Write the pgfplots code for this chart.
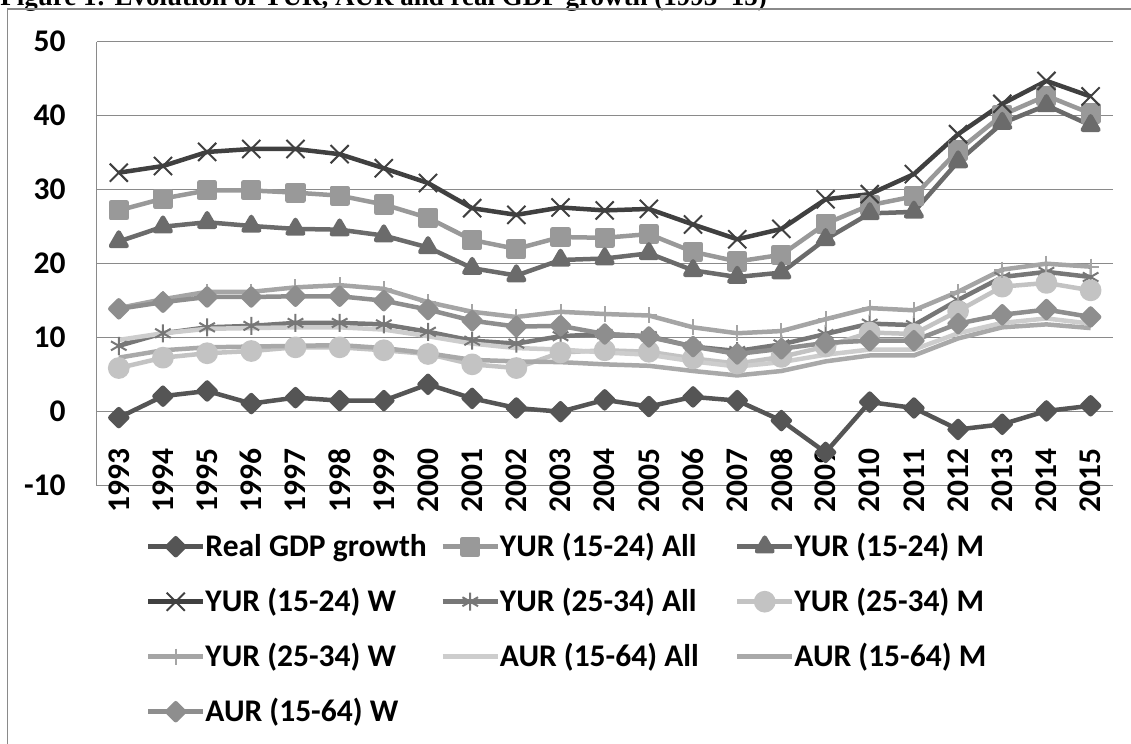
\documentclass[border=0pt]{standalone}
\usepackage{pgfplots}
\pgfplotsset{compat=1.18}
\usepackage{pgfplotstable}
\usepackage{fontspec}
\setmainfont{Carlito}[BoldFont={Carlito Bold}]
\newfontfamily\titlefont{Liberation Serif}[BoldFont={Liberation Serif Bold}]
\definecolor{cGDP}{HTML}{555555}
\definecolor{cYA}{HTML}{999999}
\definecolor{cYM}{HTML}{6B6B6B}
\definecolor{cYW}{HTML}{404040}
\definecolor{cZA}{HTML}{777777}
\definecolor{cZM}{HTML}{C3C3C3}
\definecolor{cZW}{HTML}{A5A5A5}
\definecolor{cAA}{HTML}{CDCDCD}
\definecolor{cAM}{HTML}{A9A9A9}
\definecolor{cAW}{HTML}{8E8E8E}
\definecolor{gridC}{HTML}{8A8A8A}
\newcommand\legtext[1]{\makebox[115.5pt][l]{#1}}
\pgfplotstableread{
x gdp ya ym yw za zm zw aa am aw
0  -0.8 27.2 23.0 32.3  8.9  5.9 14.0  9.7 7.3 13.9
1   2.1 28.8 25.0 33.2 10.6  7.3 15.2 10.6 8.3 14.8
2   2.8 29.9 25.6 35.1 11.4  7.9 16.2 11.2 8.7 15.5
3   1.1 29.9 25.1 35.5 11.6  8.2 16.2 11.3 8.8 15.5
4   1.9 29.6 24.7 35.5 12.0  8.7 16.8 11.4 8.9 15.6
5   1.5 29.2 24.6 34.8 12.0  8.7 17.1 11.4 9.0 15.6
6   1.5 28.0 23.8 32.9 11.8  8.3 16.6 11.1 8.6 15.0
7   3.7 26.2 22.2 30.9 10.8  7.8 14.8 10.2 7.9 13.8
8   1.8 23.2 19.4 27.5  9.6  6.4 13.5  9.2 7.0 12.3
9   0.5 22.0 18.4 26.6  9.2  5.9 12.8  8.6 6.8 11.5
10  0.0 23.6 20.5 27.6 10.2  8.0 13.5  8.4 6.7 11.6
11  1.6 23.5 20.7 27.2 10.5  8.3 13.2  8.0 6.4 10.5
12  0.7 24.0 21.4 27.4 10.2  8.1 13.0  7.7 6.2 10.1
13  2.0 21.6 19.1 25.3  8.8  7.2 11.4  6.8 5.5  8.8
14  1.5 20.3 18.2 23.3  8.2  6.5 10.6  6.1 4.9  7.8
15 -1.2 21.2 18.8 24.7  9.1  7.4 10.9  6.7 5.5  8.5
16 -5.5 25.4 23.3 28.7 10.5  8.8 12.5  7.7 6.8  9.3
17  1.3 27.9 26.8 29.4 11.9 10.7 14.0  8.4 7.6  9.6
18  0.5 29.1 27.0 32.1 11.7 10.5 13.7  8.4 7.6  9.6
19 -2.4 35.3 33.8 37.5 15.1 13.6 16.2 10.6 9.9 11.9
20 -1.7 40.1 39.0 41.6 18.2 16.9 19.2 12.0 11.4 13.1
21  0.1 42.7 41.4 44.7 18.9 17.4 20.0 12.6 11.8 13.8
22  0.8 40.3 38.7 42.6 18.2 16.4 19.6 11.9 11.3 12.8
}\data
\begin{document}
\begin{tikzpicture}
\useasboundingbox (0,0) rectangle (565.5pt,372pt);
\node[anchor=base west, inner sep=0pt, font=\titlefont\bfseries\fontsize{13.5}{16}\selectfont] at (0pt,369pt) {Figure 1: Evolution of YUR, AUR and real GDP growth (1993–15)};
\draw[color=gridC, line width=0.75pt] (3.65pt,-5pt) -- (3.65pt,367.5pt) -- (575pt,367.5pt);
\begin{axis}[
  at={(48.35pt,129.15pt)}, anchor=south west,
  scale only axis, width=508pt, height=222pt,
  xmin=-0.5, xmax=22.5, ymin=-10, ymax=50,
  clip=false,
  axis line style={draw=none},
  tick style={draw=none},
  ymajorgrids, grid style={line width=0.7pt, color=gridC},
  ytick={-10,0,10,20,30,40,50},
  yticklabels={-10,0,10,20,30,40,50},
  xtick={0,...,22},
  xticklabels={1993,1994,1995,1996,1997,1998,1999,2000,2001,2002,2003,2004,2005,2006,2007,2008,2009,2010,2011,2012,2013,2014,2015},
  ticklabel style={font=\bfseries\fontsize{15.75}{18}\selectfont, inner sep=0pt},
  yticklabel style={anchor=east, xshift=-15.35pt},
  xticklabel style={rotate=90, anchor=east},
  xticklabel shift=-18.85pt,
  legend columns=3,
  legend cell align=left,
  legend style={at={(axis description cs:0,0)}, anchor=north west, xshift=24.65pt, yshift=-16.75pt,
    draw=none, fill=none, inner sep=0pt, outer sep=0pt, row sep=0pt,
    nodes={inner sep=0pt, text height=18.82pt, text depth=8.68pt},
    font=\bfseries\fontsize{15.75}{18}\selectfont,
    /tikz/every even column/.style={column sep=2pt}},
  legend image code/.code={\draw[mark repeat=2,mark phase=2,#1] plot coordinates {(0pt,0pt) (13.75pt,0pt) (27.5pt,0pt)};},
  every axis plot/.append style={line width=2.25pt, line join=round},
]
\draw[color=gridC, line width=0.75pt] (axis cs:-0.5,-10) -- (axis cs:-0.5,50);
\addplot[color=cGDP, mark=square*, mark size=3pt, mark options={rotate=45, solid}] table[x=x,y=gdp]{\data};
\addlegendentry{\legtext{Real GDP growth}}
\addplot[color=cYA, mark=square*, mark size=3.9pt, mark options={solid}] table[x=x,y=ya]{\data};
\addlegendentry{\legtext{YUR (15-24) All}}
\addplot[color=cYM, mark=triangle*, mark size=4.5pt, mark options={solid}] table[x=x,y=ym]{\data};
\addlegendentry{\legtext{YUR (15-24) M}}
\addplot[color=cYW, mark=x, mark size=6.4pt, mark options={solid, line width=1pt}] table[x=x,y=yw]{\data};
\addlegendentry{\legtext{YUR (15-24) W}}
\addplot[color=cZA, mark=asterisk, mark size=4.5pt, mark options={solid, line width=1pt}] table[x=x,y=za]{\data};
\addlegendentry{\legtext{YUR (25-34) All}}
\addplot[color=cZM, mark=*, mark size=4.3pt, mark options={solid}] table[x=x,y=zm]{\data};
\addlegendentry{\legtext{YUR (25-34) M}}
\addplot[color=cZW, mark=+, mark size=4pt, mark options={solid, line width=1pt}] table[x=x,y=zw]{\data};
\addlegendentry{\legtext{YUR (25-34) W}}
\addplot[color=cAA, mark=none] table[x=x,y=aa]{\data};
\addlegendentry{\legtext{AUR (15-64) All}}
\addplot[color=cAM, mark=none] table[x=x,y=am]{\data};
\addlegendentry{\legtext{AUR (15-64) M}}
\addplot[color=cAW, mark=square*, mark size=3pt, mark options={rotate=45, solid}] table[x=x,y=aw]{\data};
\addlegendentry{\legtext{AUR (15-64) W}}
\end{axis}
\end{tikzpicture}
\end{document}
